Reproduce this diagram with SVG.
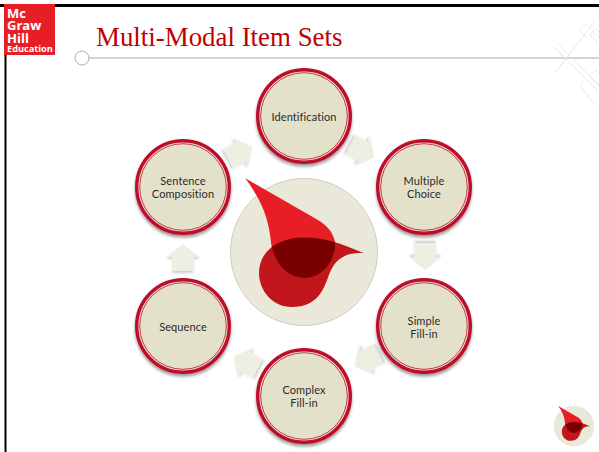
<svg xmlns="http://www.w3.org/2000/svg" xmlns:xlink="http://www.w3.org/1999/xlink" width="599" height="452" viewBox="0 0 599 452">
<style>
.lab{font-family:Lato,"Open Sans",sans-serif;font-size:11px;fill:#2a2a2a;text-anchor:middle;letter-spacing:.1px}
.logo{font-family:"Open Sans","Noto Sans",sans-serif;fill:#fff;font-weight:700}
.n1{fill:#E4E1CB;stroke:#BE0F2B;stroke-width:3.400;filter:url(#sh)}
.n2{fill:none;stroke:#BE0F2B;stroke-width:.8}
.arr{fill:#EFEEE3;filter:url(#sh2)}
.g{stroke:#e0e3e3;stroke-width:.7;fill:none}
</style>
<defs>
<filter id="sh" x="-20%" y="-20%" width="140%" height="140%"><feDropShadow dx="0" dy="2.500" stdDeviation="1.500" flood-color="#000" flood-opacity=".4"/></filter>
<filter id="sh2" x="-30%" y="-30%" width="160%" height="160%"><feDropShadow dx="0" dy="2" stdDeviation="1" flood-color="#000" flood-opacity=".2"/></filter>
<path id="a" d="M0-14 16.500-1H10.500V13H-10.500V-1H-16.500Z"/>
<path id="up" d="M245.300 178.300 318 220C328 226 333 233 335 241.700 337 258 323 278 305 278 288 278 276 265 271.700 246.700 269 225 267 208 245.300 178.300Z"/>
<path id="lo" d="M364 253.300C350 252 338 256 331 270 325 283 322 307 291.700 307 273 307 259 291 259 273 259 250 280 237.500 303 237.500 325 237.500 340 243 364 253.300Z"/>
<clipPath id="cp"><use xlink:href="#lo"/></clipPath>
<g id="mark">
<circle cx="304" cy="252" r="73.500" fill="#E9E8D9" stroke="#c2c2b6" stroke-width=".8"/>
<use xlink:href="#lo" fill="#C1161C"/>
<use xlink:href="#up" fill="#E71E26"/>
<use xlink:href="#up" fill="#7A0000" clip-path="url(#cp)"/>
</g>
</defs>
<rect width="599" height="452" fill="#fff"/>
<g id="frame">
<rect x="0" y="4" width="599" height="3" fill="#000"/>
<rect x="4.500" y="4" width="2" height="448" fill="#000"/>
<line x1="88" y1="58" x2="599" y2="58" stroke="#c6c6c6" stroke-width="1.300"/>
<circle cx="82" cy="58" r="7" fill="#fff" stroke="#b0b0b0" stroke-width="1"/>
</g>
<g id="pattern">
<path class="g" d="M556 72 594 22M554 47 599 92M558 44 599 85M560 66 566 59 560 54M579 30 586 24 599 38M579 30 587 38M590 35 596 29 599 32M590 35 599 44M580 85 584 81M580 85 594 104M589 76 596 70 599 73M589 76 599 86"/>
</g>
<g id="logo">
<rect x="4" y="4" width="51" height="51" fill="#E71E26"/>
<text class="logo" x="7" y="17.500" font-size="13">Mc</text>
<text class="logo" x="7" y="30" font-size="13">Graw</text>
<text class="logo" x="7" y="42.700" font-size="13">Hill</text>
<text class="logo" x="7" y="52" font-size="9.200">Education</text>
</g>
<text id="title" x="96" y="46" font-family="'Liberation Serif',serif" font-size="26.900" fill="#C00000">Multi-Modal Item Sets</text>
<g id="connectors">
<use xlink:href="#a" class="arr" transform="translate(240,153) rotate(63)"/>
<use xlink:href="#a" class="arr" transform="translate(362,151) rotate(117)"/>
<use xlink:href="#a" class="arr" transform="translate(425,256) rotate(180)"/>
<use xlink:href="#a" class="arr" transform="translate(367,360) rotate(243)"/>
<use xlink:href="#a" class="arr" transform="translate(246,363) rotate(297)"/>
<use xlink:href="#a" class="arr" transform="translate(183,258)"/>
</g>
<g id="center"><use xlink:href="#mark"/></g>
<g id="small-mark"><use xlink:href="#mark" transform="translate(574,426) scale(.27) translate(-304,-252)"/></g>
<g id="n-identification"><circle class="n1" cx="304" cy="116" r="46.300"/><circle class="n2" cx="304" cy="116" r="43.300"/><text class="lab" x="304" y="120.500">Identification</text></g>
<g id="n-multiple"><circle class="n1" cx="424" cy="187" r="46.300"/><circle class="n2" cx="424" cy="187" r="43.300"/><text class="lab" x="424" y="184.500">Multiple</text><text class="lab" x="424" y="197.500">Choice</text></g>
<g id="n-simple"><circle class="n1" cx="424" cy="326" r="46.300"/><circle class="n2" cx="424" cy="326" r="43.300"/><text class="lab" x="424" y="324.500">Simple</text><text class="lab" x="424" y="337.500">Fill-in</text></g>
<g id="n-complex"><circle class="n1" cx="304" cy="396" r="46.300"/><circle class="n2" cx="304" cy="396" r="43.300"/><text class="lab" x="304" y="393.500">Complex</text><text class="lab" x="304" y="406.500">Fill-in</text></g>
<g id="n-sequence"><circle class="n1" cx="183" cy="326" r="46.300"/><circle class="n2" cx="183" cy="326" r="43.300"/><text class="lab" x="183" y="330.500">Sequence</text></g>
<g id="n-sentence"><circle class="n1" cx="183" cy="187" r="46.300"/><circle class="n2" cx="183" cy="187" r="43.300"/><text class="lab" x="183" y="184.500">Sentence</text><text class="lab" x="183" y="197.500">Composition</text></g>
</svg>
